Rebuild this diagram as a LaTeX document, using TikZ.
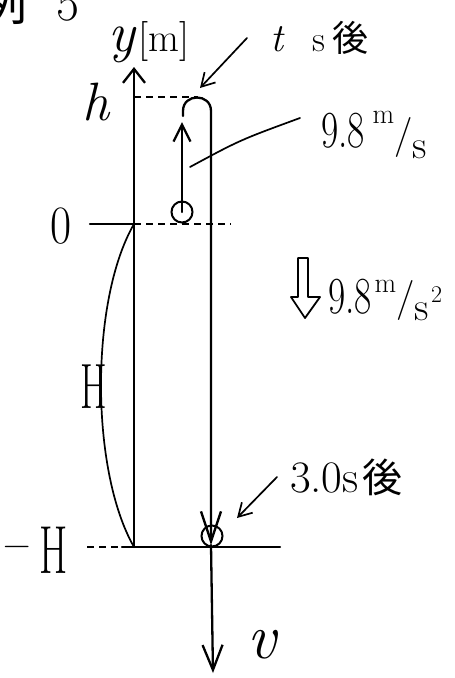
\documentclass[tikz,border=0pt]{standalone}
\usepackage{fontspec}
\usepackage{graphicx}
\newfontfamily\cjk{Noto Sans CJK JP}
\usetikzlibrary{arrows.meta}
\begin{document}
\begin{tikzpicture}[x=1pt,y=-1pt,
  ln/.style={line width=2.3pt, line cap=round},
  thinln/.style={line width=1.7pt, line cap=round},
  dsh/.style={line width=1.6pt, dash pattern=on 7pt off 5pt},
  lbl/.style={inner sep=0pt, outer sep=0pt, anchor=base west},
  ballnode/.style={circle, draw, line width=2pt, minimum size=21pt, inner sep=0pt},
]
\useasboundingbox (0,0) rectangle (455,678);

% key points
\coordinate (axB) at (134,547);
\coordinate (axT) at (134,67);
\coordinate (hL) at (134,97);
\coordinate (hR) at (198,97);
\coordinate (zL) at (90,224);
\coordinate (z0) at (134,224);
\coordinate (zR) at (231,224);
\coordinate (gL) at (87,547);
\coordinate (g0) at (122,547);
\coordinate (gR) at (280,547);
\coordinate (loopS) at (183,116);
\coordinate (loopA) at (183,111);
\coordinate (loopB) at (211,111);
\coordinate (upTip) at (182,122);
\coordinate (hitP) at (211,545);
\coordinate (vTip) at (213,673);
\coordinate (lead1) at (190,167);
\coordinate (lead2) at (300,118);
\coordinate (tsTip) at (200,88);
\coordinate (tsTail) at (247,38);
\coordinate (thTip) at (237,518);
\coordinate (thTail) at (277,477);

% balls
\node[ballnode] (ball1) at (182,212) {};
\node[ballnode] (ball2) at (212,536) {};

% y axis
\draw[ln, -{Straight Barb[length=14pt,width=22pt]}] (axB) -- (axT);
% h level
\draw[dsh] (hL) -- (hR);
% trajectory loop
\draw[ln, -{Straight Barb[length=30pt,width=20pt]}] (loopS) -- (loopA) .. controls (183,93) and (211,93) .. (loopB) -- (hitP);
% initial velocity arrow
\draw[ln, -{Straight Barb[length=17pt,width=17pt]}] (ball1.center) -- (upTip);
% level 0
\draw[ln] (zL) -- (z0);
\draw[dsh] (z0) -- (zR);
% ground level -H
\draw[dsh] (gL) -- (g0);
\draw[ln] (g0) -- (gR);
% final velocity
\draw[ln, -{Straight Barb[length=25pt,width=20pt]}] (hitP) -- (vTip);
% H brace curve
\draw[thinln] (z0) .. controls (90,300) and (90,470) .. (axB);
% leader to 9.8 m/s
\draw[thinln] (lead1) .. controls (240,140) .. (lead2);
% leaders with arrows
\draw[thinln, -{Straight Barb[length=13pt,width=15pt]}] (tsTail) -- (tsTip);
\draw[thinln, -{Straight Barb[length=13pt,width=15pt]}] (thTail) -- (thTip);
% gravity hollow arrow
\draw[line width=1.8pt, line join=round] (298,258) -- (308,258) -- (308,297) -- (320,297) -- (305,318) -- (291,297) -- (298,297) -- cycle;

% labels
\node[lbl, font=\cjk\fontsize{50}{50}\selectfont] (ex) at (-22,20) {例\hspace{29pt}{\rmfamily 5}};
\node[lbl] (ylab) at (108,51) {{\fontsize{56}{56}\selectfont\itshape y}\kern4pt{\fontsize{40}{40}\selectfont[m]}};
\node[lbl, font=\fontsize{54}{54}\selectfont\itshape] (hlab) at (82,120) {h};
\node[lbl] (tlab) at (270,51) {{\fontsize{40}{40}\selectfont\itshape t}\hspace{29pt}{\fontsize{36}{36}\selectfont s\kern8pt{\cjk 後}}};
\node[lbl] (v0lab) at (321,147) {\scalebox{0.72}[1]{\fontsize{52}{52}\selectfont 9.8}\kern8pt\raisebox{24pt}{\fontsize{28}{28}\selectfont m}{\fontsize{40}{40}\selectfont /}\raisebox{-11pt}{\fontsize{40}{40}\selectfont s}};
\node[lbl] (glab) at (328,313) {\scalebox{0.72}[1]{\fontsize{52}{52}\selectfont 9.8}\kern3pt\raisebox{21pt}{\fontsize{28}{28}\selectfont m}\raisebox{3pt}{\fontsize{40}{40}\selectfont /}\raisebox{-7pt}{\fontsize{40}{40}\selectfont s}\kern2pt\raisebox{11pt}{\fontsize{24}{24}\selectfont 2}};
\node[lbl] (zlab) at (50,243) {\scalebox{0.85}[1]{\fontsize{54}{54}\selectfont 0}};
\node[lbl] (Hlab) at (80,408) {\scalebox{0.6}[1]{\fontsize{64}{64}\selectfont H}};
\node[lbl] (mHlab) at (4,573) {\raisebox{16.5pt}{\fontsize{38}{38}\selectfont −}\kern8pt\scalebox{0.6}[1]{\fontsize{68}{68}\selectfont H}};
\node[lbl] (vlab) at (247,658) {\fontsize{64}{64}\selectfont\itshape v};
\node[lbl] (tlab2) at (290,492) {\fontsize{45}{45}\selectfont 3.0s\kern4pt{\cjk\fontsize{40}{40}\selectfont 後}};
\end{tikzpicture}
\end{document}
